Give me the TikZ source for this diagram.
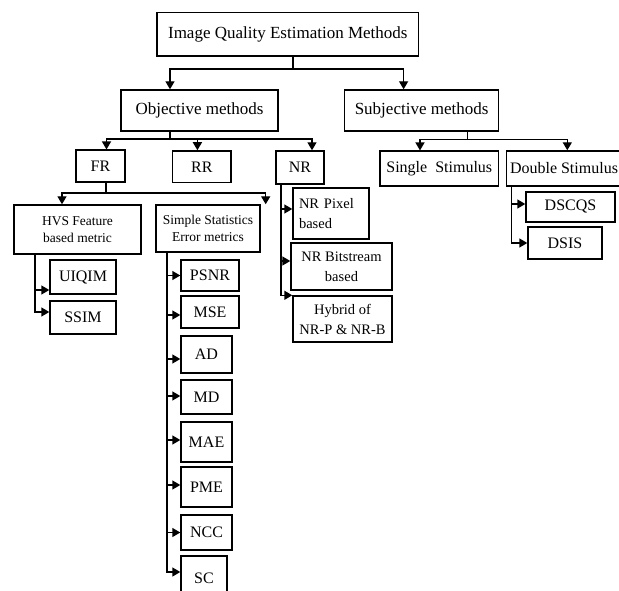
\documentclass[tikz,border=0pt]{standalone}
\usepackage{fontspec}
\setmainfont{Liberation Serif}
\usetikzlibrary{arrows.meta}

\begin{document}
\begin{tikzpicture}[x=1pt, y=-1pt,
    line width=1.4pt,
    >={Triangle[length=8pt,width=9pt]},
    wh/.style 2 args={minimum width=#1pt, minimum height=#2pt},
    block/.style={rectangle, draw, fill=white, inner sep=1pt, font=\fontsize{16}{19}\selectfont},
    bigblock/.style={block, font=\fontsize{17}{20}\selectfont},
    smallblock/.style={block, align=center, font=\fontsize{13.5}{17}\selectfont},
    nrblock/.style={block, align=center, font=\fontsize{14.5}{20}\selectfont}]

    \useasboundingbox (0,0) rectangle (619,591);
    \clip (0,0) rectangle (619,591);

    % Top level
    \node [bigblock, wh={261.5}{43.3}] (iqem) at (287.8,34.3) {Image Quality Estimation Methods};

    % Objective / subjective
    \node [bigblock, wh={157}{41}] (objective) at (199.5,110.5) {Objective methods};
    \node [bigblock, wh={154}{41}] (subjective) at (421.6,110.5) {Subjective methods};

    % Objective branch
    \node [block, wh={49}{31.7}] (fr) at (100.5,166) {FR};
    \node [block, wh={58.5}{31.7}] (rr) at (201.8,166.8) {RR};
    \node [block, wh={48}{33}] (nr) at (300,167.5) {NR};

    % Subjective branch
    \node [block, wh={118.6}{34.7}] (single) at (439.3,168.5) {Single\ \ Stimulus};
    \node [block, wh={115}{35}] (double) at (564,168.5) {Double Stimulus};

    % FR metrics
    \node [smallblock, wh={127}{49}] (hvs) at (77.5,229.5) {HVS Feature\\based metric};
    \node [smallblock, wh={104}{47}] (sse) at (208,228.5) {Simple Statistics\\Error metrics};
    \node [block, wh={66}{34}] (uiqim) at (83,277) {UIQIM};
    \node [block, wh={66}{33}] (ssim) at (83,317.5) {SSIM};
    \node [block, wh={58}{31}] (psnr) at (210,275.5) {PSNR};
    \node [block, wh={58}{32}] (mse) at (210,312) {MSE};
    \node [block, wh={51}{37}] (ad) at (206.5,354.5) {AD};
    \node [block, wh={51}{34}] (md) at (206.5,397) {MD};
    \node [block, wh={51}{40}] (mae) at (206.5,442) {MAE};
    \node [block, wh={51}{40}] (pme) at (206.5,487) {PME};
    \node [block, wh={51}{35}] (ncc) at (206.5,532.5) {NCC};
    \node [block, wh={46}{44}] (sc) at (204,578) {SC};

    % NR metrics
    \node [nrblock, align=left, text width=64pt, wh={76}{51}] (nrpixel) at (331,213.5) {NR Pixel\\based};
    \node [nrblock, wh={101}{47}] (nrbit) at (341.5,266.5) {NR Bitstream\\based};
    \node [nrblock, wh={99}{46}] (hybrid) at (342.5,319) {Hybrid of\\NR-P \& NR-B};

    % Double stimulus methods
    \node [block, wh={89}{30}] (dscqs) at (570.5,207) {DSCQS};
    \node [block, wh={74}{32}] (dsis) at (565,243) {DSIS};

    % Connections - top level
    \coordinate (j1) at (293,69);
    \draw (iqem.south -| j1) -- (j1);
    \draw [->] (j1) -| ([xshift=-29.5pt]objective.north);
    \draw [->] (j1) -| ([xshift=-18pt]subjective.north);

    % Connections - objective
    \coordinate (j2) at (170,139);
    \draw (objective.south -| j2) -- (j2);
    \draw [->] (j2) -| ([xshift=6pt]fr.north);
    \draw [->] (j2) -| ([xshift=-4.4pt]rr.north);
    \draw [->] (j2) -| ([xshift=12pt]nr.north);

    % Connections - subjective
    \coordinate (j3) at (467.3,139.3);
    \draw (subjective.south -| j3) -- (j3);
    \draw [->] (j3) -| ([xshift=-19.3pt]single.north);
    \draw [->] (j3) -| ([xshift=3.3pt]double.north);

    % Connections - FR
    \coordinate (j4) at (106,193);
    \draw (fr.south -| j4) -- (j4);
    \draw [->] (j4) -| ([xshift=-15.5pt]hvs.north);
    \draw [->] (j4) -| ([xshift=5pt]sse.north east);

    \draw [->] ([xshift=-42.5pt]hvs.south) |- ([yshift=-13pt]uiqim.west);
    \draw [->] ([xshift=-42.5pt]hvs.south) |- ([yshift=5.5pt]ssim.west);

    \foreach \m/\dy in {psnr/0, mse/-3, ad/-4.5, md/1, mae/2, pme/2, ncc/0, sc/6}
        \draw [->] ([xshift=-41pt]sse.south) |- ([yshift=\dy pt]\m.west);

    % Connections - NR
    \draw [->] ([xshift=-19pt]nr.south) |- ([yshift=4.5pt]nrpixel.west);
    \draw [->] ([xshift=-19pt]nr.south) |- ([yshift=5.5pt]nrbit.west);
    \draw [->] ([xshift=-19pt]nr.south) |- (hybrid.north west);

    % Connections - double stimulus
    \draw [->] ([xshift=-52.3pt]double.south) |- ([yshift=3pt]dscqs.west);
    \draw [->] ([xshift=-52.3pt]double.south) |- (dsis.west);

\end{tikzpicture}
\end{document}
